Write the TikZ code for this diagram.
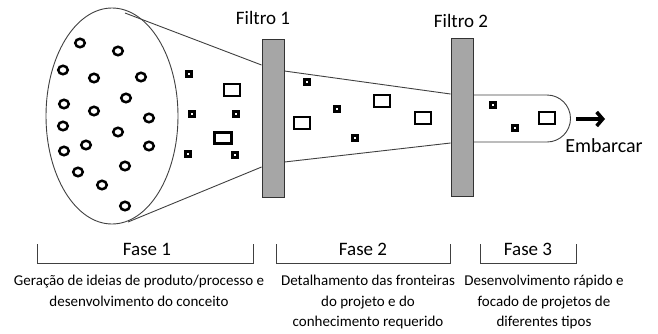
\documentclass[tikz,border=0pt]{standalone}
\usepackage{fontspec}
\setmainfont{Carlito}
\usetikzlibrary{shapes.geometric,arrows.meta,positioning}
\begin{document}
\begin{tikzpicture}[x=1pt,y=-1pt,
  outline/.style={draw=black!75,line width=0.9pt},
  filtro/.style={draw=black!80,fill=black!35,line width=0.9pt,
    minimum width=22pt,minimum height=158pt,inner sep=0pt},
  ideia/.style={draw=black,line width=2.5pt,ellipse,inner sep=0pt,
    minimum width=9.5pt,minimum height=8.5pt},
  pq/.style={draw=black,line width=2.5pt,inner sep=0pt,minimum size=5pt},
  gr/.style={draw=black,line width=2.5pt,inner sep=0pt,
    minimum width=16pt,minimum height=12pt},
  rotulo/.style={font=\fontsize{19}{22}\selectfont,inner sep=0pt},
  chave/.style={draw=black!75,line width=1pt},
  desc/.style={font=\fontsize{15}{20.5}\selectfont,align=center,
    anchor=north,inner sep=0pt},
  seta/.style={-{Straight Barb[length=6pt,width=14pt]},line width=3.6pt},
]
  \useasboundingbox (0,0) rectangle (658,333);
  \node[filtro] (f1) at (273,118) {};
  \node[filtro] (f2) at (462,117.5) {};
  \node[outline,ellipse,minimum width=132pt,minimum height=216pt] (funil)
    at (112,116) {};
  \draw[outline] (125,13) -- (f1.west |- 0,65);
  \draw[outline] (128,222) -- (f1.west |- 0,167);
  \draw[outline] (f1.east |- 0,71) -- (f2.west |- 0,94);
  \draw[outline] (f1.east |- 0,162) -- (f2.west |- 0,143);
  \draw[outline] (f2.east |- 0,95) -- (547,95)
    arc[start angle=-90,end angle=90,radius=23.5] -- (f2.east |- 0,142);
  \node[filtro] at (f1) {};
  \node[filtro] at (f2) {};
  \node[rotulo] (r1) at (263,18) {Filtro 1};
  \node[rotulo] (r2) at (461,21) {Filtro 2};
  \foreach \x/\y [count=\n] in {80/43,118/51,63/70,94/78,141/77,64/104,
    126/98,94/111,149/118,63/126,118/132,86/145,149/146,64/151,125/166,
    78/172,102/185,125/206}
    \node[ideia] (c\n) at (\x,\y) {};
  \foreach \x/\y [count=\n] in {189/74,192/114,236/114,188/154,235/155,
    307/82,337/109,355/138,493/105,515/128}
    \node[pq] (p\n) at (\x,\y) {};
  \foreach \x/\y [count=\n] in {232/90,302/123,382/101,423/118,547/118}
    \node[gr] (g\n) at (\x,\y) {};
  \node[gr,minimum width=17pt,minimum height=11pt] (g6) at (223,138) {};
  \coordinate (s1) at (576,119);
  \coordinate (s2) at (605,119);
  \draw[seta] (s1) -- (s2);
  \node[font=\fontsize{20}{22}\selectfont,inner sep=0pt] (emb) at (604,146)
    {Embarcar};
  \draw[chave] (37,244) |- (253,263) -- (253,244);
  \draw[chave] (276,244) |- (450,263) -- (450,244);
  \draw[chave] (480,244) |- (576,263) -- (576,244);
  \node[rotulo] (fase1) at (147,249) {Fase 1};
  \node[rotulo] (fase2) at (363,249) {Fase 2};
  \node[rotulo] (fase3) at (528,249) {Fase 3};
  \node[desc] (d1) at (139,275)
    {Geração de ideias de produto/processo e\\desenvolvimento do conceito};
  \node[desc] (d2) at (368,275)
    {Detalhamento das fronteiras\\do projeto e do\\conhecimento requerido};
  \node[desc] (d3) at (544,275)
    {Desenvolvimento rápido e\\focado de projetos de\\diferentes tipos};
\end{tikzpicture}
\end{document}
